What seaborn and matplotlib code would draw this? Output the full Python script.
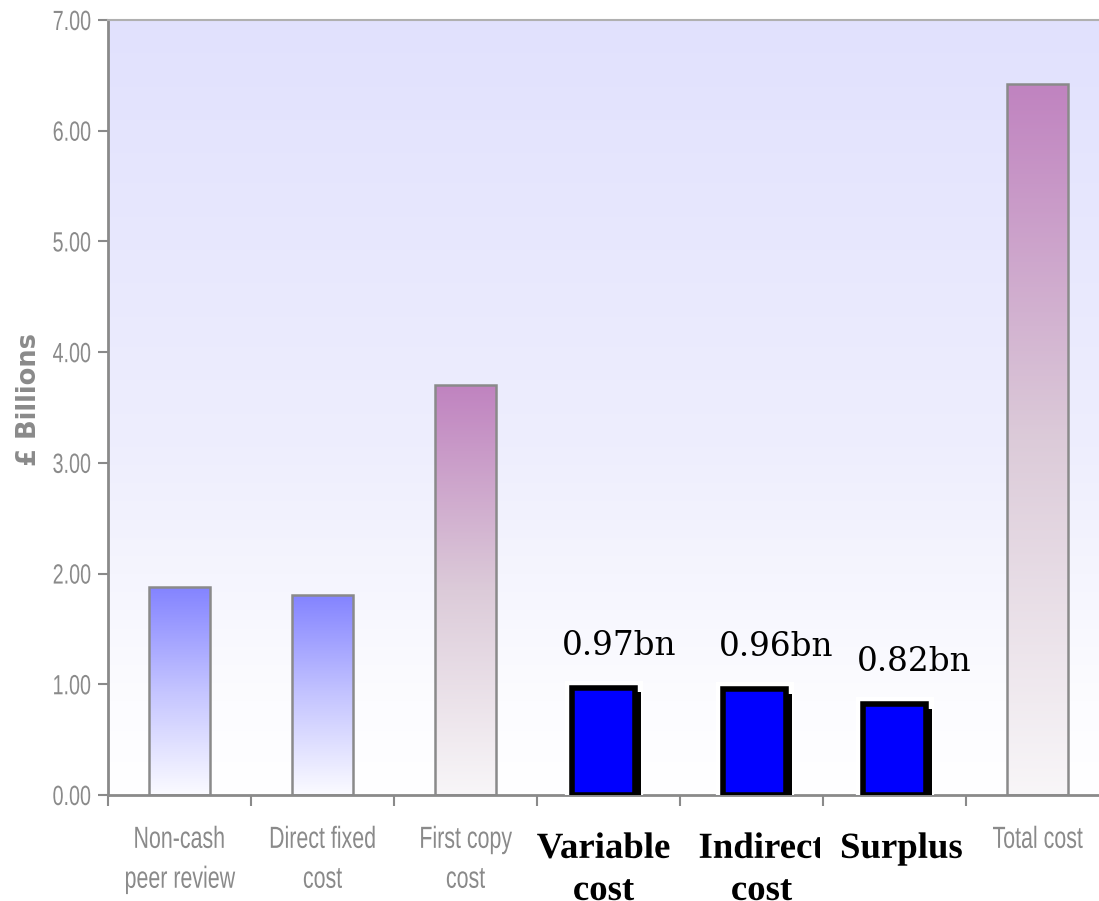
import numpy as np
import matplotlib
matplotlib.use("Agg")
import matplotlib.pyplot as plt
import matplotlib.patheffects as pe
from matplotlib.colors import LinearSegmentedColormap
from matplotlib.transforms import Affine2D, Bbox, TransformedBbox
import seaborn as sns

# Cost breakdown, £ billions
categories = ["Non-cash\npeer review", "Direct fixed\ncost", "First copy\ncost",
              "Variable\ncost", "Indirect\ncost", "Surplus", "Total cost"]
values = [1.88, 1.81, 3.70, 0.97, 0.96, 0.82, 6.42]
groups = ["component", "component", "subtotal", "highlight", "highlight", "highlight", "subtotal"]
value_labels = ["", "", "", "0.97bn", "0.96bn", "0.82bn", ""]
y_ticks = [0, 1, 2, 3, 4, 5, 6, 7]

# small horizontal nudges for the highlighted boxes, their values and captions
box_shift = [0, 0, 0, -0.035, 0.02, 0.0, 0]          # category units
value_shift = [0, 0, 0, 0.077, 0.17, 0.14, 0]        # category units
caption_shift_px = [0, 0, 0, -5, 10, 7, 0]           # pixels


class Squeeze(pe.AbstractPathEffect):
    """Draw text glyphs horizontally condensed (keeping the alignment) and nudged."""

    def __init__(self, sx=0.7, align="center", dx=0.0, dy=0.0):
        super().__init__()
        self.sx = sx
        self.align = align
        self.dx = dx
        self.dy = dy

    def draw_path(self, renderer, gc, tpath, affine, rgbFace=None):
        xs = tpath.vertices[:, 0] if len(tpath.vertices) else np.array([0.0])
        w = float(xs.max())
        frac = {"left": 0.0, "center": 0.5, "right": 1.0}[self.align]
        shift = (1 - self.sx) * w * frac
        t = (Affine2D().scale(self.sx, 1.0).translate(shift, 0) + affine
             + Affine2D().translate(self.dx, self.dy))
        renderer.draw_path(gc, tpath, t, rgbFace)


sns.set_theme(style="white")
plt.rcParams["font.family"] = ["Liberation Sans", "DejaVu Sans"]

GRAY = "#8a8a8a"

fig = plt.figure(figsize=(10.99, 9.01), dpi=100)
ax = fig.add_axes([108 / 1099, 106 / 901, 1001 / 1099, 775 / 901])

sns.barplot(x=categories, y=values, ax=ax, width=0.42, color="white",
            edgecolor=GRAY, linewidth=1.8, zorder=3)

# plot-area background: lavender fading to white
bg_cmap = LinearSegmentedColormap.from_list(
    "bg", [(0.0, "#ffffff"), (0.12, "#fcfcff"), (0.45, "#eeeefd"), (1.0, "#e1e1fd")])
bg = np.linspace(0, 1, 256).reshape(-1, 1)
ax.imshow(bg, extent=[-0.5, 6.5, 0, 7], origin="lower", aspect="auto",
          cmap=bg_cmap, zorder=0)

grad_maps = {
    "component": LinearSegmentedColormap.from_list("c", ["#fbfbff", "#c4c4ff", "#8383ff"]),
    "subtotal": LinearSegmentedColormap.from_list("s", ["#f8f6f8", "#dccbd9", "#c083c0"]),
}

for i, (patch, grp, lab) in enumerate(zip(ax.patches, groups, value_labels)):
    x0 = patch.get_x()
    w = patch.get_width()
    h = patch.get_height()
    cx = x0 + w / 2
    if grp == "highlight":
        nw = 0.44
        patch.set_x(cx + box_shift[i] - nw / 2)
        patch.set_width(nw)
        patch.set_facecolor("#0000ff")
        patch.set_edgecolor("black")
        patch.set_linewidth(4)
        patch.set_zorder(5)
        patch.set_path_effects([
            pe.Stroke(linewidth=11, foreground="white"),
            pe.SimplePatchShadow(offset=(4.5, -3.5), shadow_rgbFace="black", alpha=1.0),
            pe.Normal(),
        ])
        ax.text(cx + value_shift[i], h + 0.38, lab, ha="center", va="center",
                fontsize=23.5, family="DejaVu Serif", color="black", zorder=6)
    else:
        patch.set_facecolor("none")
        grad = np.linspace(0, 1, 256).reshape(-1, 1)
        im = ax.imshow(grad, extent=[x0, x0 + w, 0, h], origin="lower",
                       aspect="auto", cmap=grad_maps[grp], zorder=2)
        im.set_clip_path(patch)

ax.set_xlim(-0.5, 6.5)
ax.set_ylim(0, 7)

# y axis
ax.set_yticks(y_ticks)
ax.set_yticklabels([f"{t:.2f}" for t in y_ticks])
ax.tick_params(axis="y", direction="out", length=7, width=1.5, color=GRAY,
               labelcolor=GRAY, labelsize=20, pad=5, left=True)
for lbl in ax.get_yticklabels():
    lbl.set_path_effects([Squeeze(0.71, "right")])

# x axis: labels at category centres, tick marks at category boundaries
ax.set_xticks(range(len(categories)))
ax.set_xticklabels(categories)
ax.set_xticks(np.arange(-0.5, 7.0, 1.0), minor=True)
ax.tick_params(axis="x", which="major", length=0, pad=21.5, labelsize=22,
               labelcolor=GRAY)
ax.tick_params(axis="x", which="minor", direction="out", length=8, width=1.5,
               color=GRAY, bottom=True)

for i, (lbl, grp) in enumerate(zip(ax.get_xticklabels(), groups)):
    lbl.set_verticalalignment("top")
    if grp == "highlight":
        lbl.set_family(["Liberation Serif", "DejaVu Serif"])
        lbl.set_fontweight("bold")
        lbl.set_fontsize(26.5)
        lbl.set_color("black")
        lbl.set_linespacing(1.26)
        lbl.set_path_effects([Squeeze(1.0, "center", dx=caption_shift_px[i], dy=-6)])
    else:
        lbl.set_linespacing(1.43)
        lbl.set_path_effects([Squeeze(0.70, "center")])

# the "Indirect" caption is cropped on its right edge
ind = ax.get_xticklabels()[4]
ind.set_clip_on(True)
ind.set_clip_box(TransformedBbox(Bbox([[0, 0], [820 / 1099, 1]]), fig.transFigure))

for side in ["left", "bottom"]:
    ax.spines[side].set_color(GRAY)
    ax.spines[side].set_linewidth(2)
ax.spines["top"].set_color("#b0b0b0")
ax.spines["top"].set_linewidth(1.5)
ax.spines["right"].set_visible(False)

ax.set_xlabel("")
ax.set_ylabel("")
fig.text(29 / 1099, 1 - 400 / 901, "£ Billions", rotation=90, ha="center", va="center",
         fontsize=18.5, fontweight="bold", color=GRAY, family=["DejaVu Sans"])

fig.savefig("out.png", dpi=100, facecolor="white")
